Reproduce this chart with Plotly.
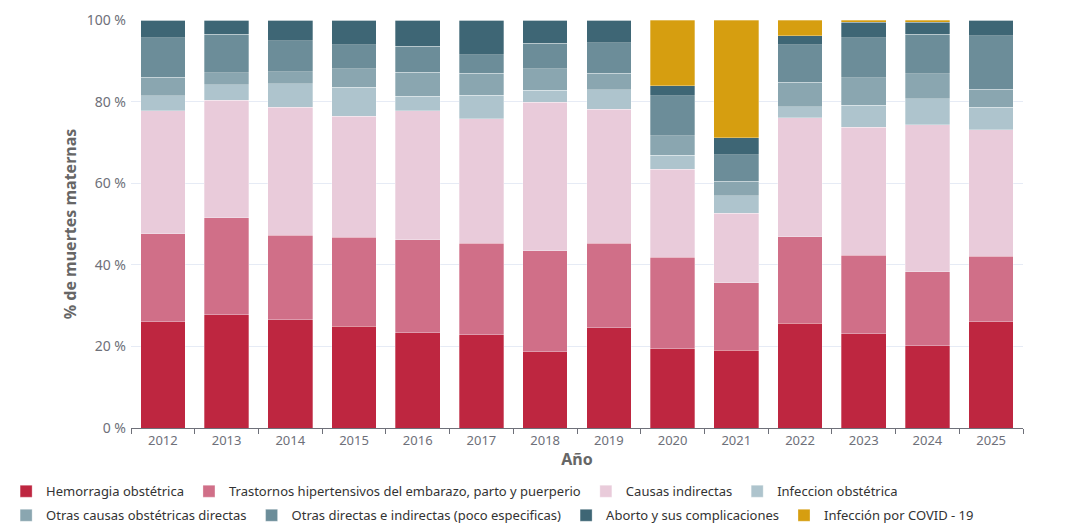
import plotly.graph_objects as go

years = ["2012", "2013", "2014", "2015", "2016", "2017", "2018", "2019",
         "2020", "2021", "2022", "2023", "2024", "2025"]

hemorragia = [26.0, 27.8, 26.5, 24.9, 23.4, 22.8, 18.7, 24.6, 19.4, 19.0, 25.7, 23.1, 20.2, 26.0]
hipertensivos = [21.6, 23.7, 20.7, 21.9, 22.8, 22.5, 24.8, 20.7, 22.4, 16.6, 21.2, 19.2, 18.1, 16.1]
indirectas = [30.1, 28.8, 31.4, 29.6, 31.6, 30.5, 36.4, 32.8, 21.6, 17.0, 29.1, 31.4, 36.0, 31.0]
infeccion = [3.7, 3.8, 5.8, 7.1, 3.5, 5.8, 2.9, 4.8, 3.5, 4.3, 2.7, 5.4, 6.4, 5.5]
otras_directas = [4.6, 3.0, 2.9, 4.6, 5.9, 5.3, 5.3, 4.0, 4.7, 3.6, 6.1, 6.8, 6.1, 4.4]
poco_especificas = [9.6, 9.4, 7.6, 5.8, 6.4, 4.6, 6.2, 7.5, 9.8, 6.5, 9.1, 9.7, 9.7, 13.1]
aborto = [4.4, 3.5, 5.1, 6.1, 6.4, 8.5, 5.7, 5.6, 2.5, 4.1, 2.3, 3.9, 3.0, 3.9]
covid = [0, 0, 0, 0, 0, 0, 0, 0, 16.1, 28.9, 3.8, 0.5, 0.5, 0]

y_ticks = [0, 20, 40, 60, 80, 100]
y_tick_labels = ["0 %", "20 %", "40 %", "60 %", "80 %", "100 %"]

series = [
    ("Hemorragia obstétrica", hemorragia, "#BE2640", "legend"),
    ("Trastornos hipertensivos del embarazo, parto y puerperio", hipertensivos, "#D06F88", "legend"),
    ("Causas indirectas", indirectas, "#E9CBDA", "legend"),
    ("Infeccion obstétrica", infeccion, "#AEC4CD", "legend"),
    ("Otras causas obstétricas directas", otras_directas, "#8AA6B0", "legend2"),
    ("Otras directas e indirectas (poco especificas)", poco_especificas, "#6C8D99", "legend2"),
    ("Aborto y sus complicaciones", aborto, "#3E6675", "legend2"),
    ("Infección por COVID - 19", covid, "#D69E10", "legend2"),
]

fig = go.Figure()
for name, vals, color, lg in series:
    fig.add_trace(go.Bar(
        x=years, y=vals, name=name, legend=lg,
        marker=dict(color=color, line=dict(width=0.6, color="rgba(255,255,255,0.5)")),
    ))

legend_style = dict(
    orientation="h", xanchor="left", yanchor="middle",
    traceorder="normal",
    font=dict(size=13, color="#333333", family="Noto Sans"),
    bgcolor="rgba(0,0,0,0)", itemwidth=30, tracegroupgap=0,
)

fig.update_layout(
    width=1080, height=519,
    barmode="stack", barnorm="percent", bargap=0.3,
    plot_bgcolor="white", paper_bgcolor="white",
    margin=dict(l=123, r=65, t=12, b=99, autoexpand=False),
    font=dict(family="Noto Sans", color="#6E7079", size=13),
    legend=dict(x=-0.14, y=-0.155, **legend_style),
    legend2=dict(x=-0.14, y=-0.214, **legend_style),
    xaxis=dict(
        title=dict(text="<b>Año</b>", font=dict(size=16, color="#666666"), standoff=6),
        showline=True, linecolor="#6E7079", linewidth=1,
        ticks="outside", tickson="boundaries", ticklen=5, tickcolor="#6E7079",
        tickfont=dict(size=13, color="#6E7079"),
        showgrid=False,
    ),
    yaxis=dict(
        title=dict(text="<b>% de muertes maternas</b>", font=dict(size=16, color="#666666"), standoff=6),
        range=[0, 100], tickmode="array", tickvals=y_ticks, ticktext=y_tick_labels,
        showgrid=True, gridcolor="#E6EBF5", gridwidth=1,
        zeroline=False, showline=False, ticklabelstandoff=4,
        tickfont=dict(size=14, color="#6E7079"),
    ),
)

fig.write_html("out.html")
